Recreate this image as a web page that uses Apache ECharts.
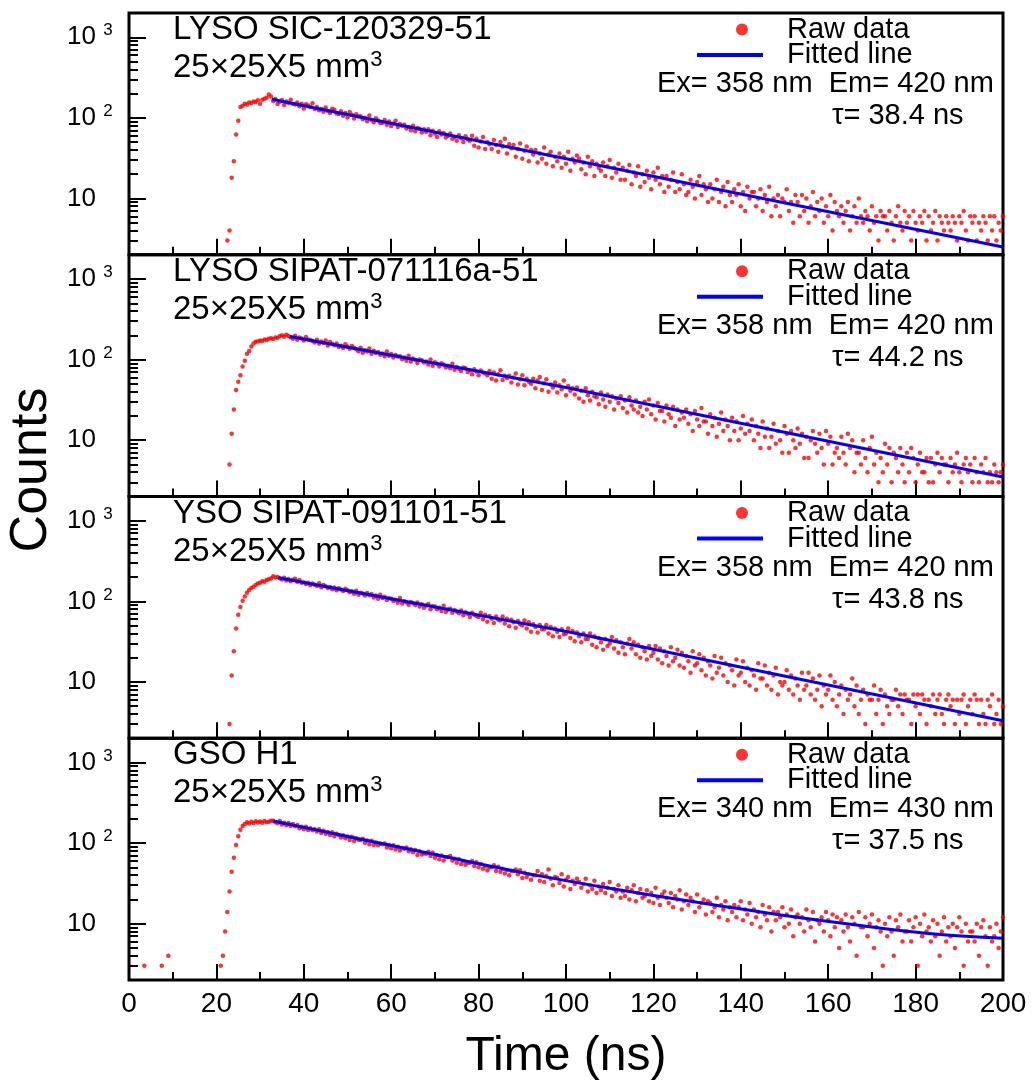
<!DOCTYPE html>
<html>
<head>
<meta charset="utf-8">
<title>Scintillation decay time</title>
<script src="https://cdn.jsdelivr.net/npm/echarts@6/dist/echarts.min.js"></script>
<style>
  html, body { margin: 0; padding: 0; background: #ffffff; }
  #chart { width: 1033px; height: 1081px; }
</style>
</head>
<body>
<div id="chart"></div>
<script>
// ---- data -------------------------------------------------------------
// Raw decay spectra: counts per 0.5 ns channel, first channel at rawStartTimes[k]
const TIME_STEP = 0.5;

const panelTitles = ['LYSO SIC-120329-51', 'LYSO SIPAT-071116a-51', 'YSO SIPAT-091101-51', 'GSO H1'];
const sizeLabel = '25×25X5 mm';
const wavelengthLabels = ['Ex= 358 nm  Em= 420 nm', 'Ex= 358 nm  Em= 420 nm', 'Ex= 358 nm  Em= 420 nm', 'Ex= 340 nm  Em= 430 nm'];
const tauLabels = ['τ= 38.4 ns', 'τ= 44.2 ns', 'τ= 43.8 ns', 'τ= 37.5 ns'];

const rawStartTimes = [22.5, 23.0, 23.0, 21.0];

const rawCountsLysoSic = [
  3,4,18,29,62,92,136,141,150,146,155,152,160,157,165,150,168,172,178,195,184,
  162,171,149,158,166,144,160,153,168,150,
  146,155,139,150,131,147,142,136,152,129,
  136,124,129,119,134,122,115,130,126,113,
  112,121,106,115,101,118,109,98,111,104,
  105,96,100,91,107,94,88,99,93,86,
  87,94,82,90,79,85,92,77,84,80,
  82,74,77,70,80,68,75,73,66,72,
  67,72,61,69,64,58,68,62,65,57,
  60,64,55,58,52,61,56,50,59,54,
  52,60,45,55,43,51,58,41,50,47,
  41,53,46,38,50,44,55,36,47,42,
  46,33,41,48,31,39,44,29,40,35,
  40,28,36,31,43,27,35,38,25,33,
  29,36,24,33,27,38,22,31,28,34,
  31,23,28,20,33,25,29,19,27,24,
  22,28,19,25,30,18,24,21,27,17,
  24,17,22,26,15,21,19,25,14,20,
  16,22,18,13,21,17,24,15,19,12,
  19,14,17,21,12,16,13,20,15,11,
  12,17,14,10,16,19,11,15,13,9,
  15,10,13,17,9,12,14,8,16,11,
  9,13,11,15,8,12,7,14,10,12,
  12,8,10,13,7,11,9,14,6,10,
  8,11,6,10,9,13,7,9,5,11,
  9,6,11,7,10,5,8,12,6,9,
  7,10,5,8,6,11,4,9,7,6,
  8,5,7,9,4,6,8,5,10,6,
  5,7,6,4,8,5,6,3,7,6,
  6,4,7,5,3,6,8,5,4,7,
  5,6,3,7,5,4,6,5,7,3,
  6,4,5,7,3,6,5,4,6,5,
  4,6,5,3,6,5,7,4,3,6,
  5,6,3,5,4,6,5,3,6,4,
  6,3,5,4,6
];

const rawCountsLysoSipat = [
  5,12,24,42,53,64,82,97,118,128,145,158,166,168,172,170,178,175,181,184,180,188,186,195,200,192,203,196,
  190,181,197,176,188,183,172,191,178,175,
  170,163,176,158,168,161,172,150,165,157,
  151,158,143,149,139,155,145,136,147,140,
  134,127,140,122,131,126,137,118,129,121,
  124,115,119,110,126,112,117,106,114,109,
  110,101,106,97,112,95,103,99,91,100,
  98,92,95,87,100,84,93,89,82,90,
  87,80,84,78,89,75,81,77,72,80,
  78,70,74,66,76,71,64,73,69,67,
  64,72,58,69,55,66,74,56,63,59,
  63,52,60,67,49,57,64,48,58,53,
  50,58,44,55,61,42,51,57,40,49,
  45,52,39,48,43,55,36,47,41,44,
  37,45,33,41,30,44,36,31,40,35,
  34,28,39,32,26,37,30,35,24,33,
  29,35,25,31,22,34,27,24,31,22,
  26,20,30,24,32,21,27,18,29,23,
  23,17,27,21,19,26,15,24,18,22,
  19,24,16,21,13,23,18,15,25,17,
  17,12,21,15,19,11,16,22,13,18,
  15,10,19,13,17,10,14,20,12,16,
  13,18,10,15,12,8,17,11,14,8,
  11,16,9,13,10,7,15,12,7,13,
  10,8,14,9,12,6,11,6,10,13,
  9,7,12,8,5,13,9,11,5,7,
  8,6,11,7,5,12,8,10,4,7,
  7,5,10,6,4,8,11,5,7,3,
  6,4,9,5,8,3,7,6,4,8,
  5,3,7,4,8,6,3,5,7,4,
  4,6,3,6,3,5,7,4,6,5,
  5,3,6,4,5,7,4,3,5,6,
  4,5,3,6,4,3,5,4,6,3,
  4,3,5,4,3,4,5
];

const rawCountsYsoSipat = [
  3,12,24,46,68,85,102,115,128,138,146,152,160,166,170,178,175,184,188,192,205,198,200,194,
  187,196,182,190,177,185,191,175,184,170,
  173,164,170,158,167,161,155,168,150,159,
  154,146,151,141,149,137,145,140,134,143,
  137,130,133,124,135,121,128,125,118,127,
  119,123,112,118,108,121,110,114,104,109,
  108,101,105,96,110,94,100,97,91,98,
  95,90,97,86,92,83,89,93,80,87,
  86,80,83,76,88,74,79,81,72,78,
  75,71,77,67,73,70,64,72,68,66,
  64,72,60,68,56,66,61,54,65,59,
  58,65,53,61,49,59,55,47,57,52,
  50,58,46,55,42,52,48,41,51,45,
  45,51,40,48,37,46,42,36,45,39,
  40,46,35,43,32,41,37,31,40,34,
  34,40,29,37,27,35,31,25,34,28,
  30,36,26,33,23,31,27,22,30,34,
  26,31,22,29,20,27,24,19,28,21,
  23,28,19,26,17,24,21,16,27,18,
  20,25,16,23,15,21,18,13,24,16,
  17,22,14,20,12,18,16,11,21,13,
  15,20,12,17,10,16,14,9,19,12,
  13,18,10,15,9,14,12,8,17,11,
  11,16,9,13,8,12,15,7,10,9,
  10,14,8,12,7,11,9,6,13,8,
  9,13,7,11,6,8,12,5,9,7,
  8,12,6,10,5,7,9,4,8,6,
  7,11,5,9,4,6,8,3,7,6,
  6,9,4,6,8,3,7,5,4,6,
  6,8,5,7,4,7,6,6,3,7,
  5,7,4,7,6,3,6,5,7,4,
  6,7,4,3,6,7,5,6,3,6,
  4,6,7,3,5,6,4,7,6,3,
  6,4,3,6,5,7,3,4,6,3,
  5
];

const rawCountsGso = [
  3,4,8,14,25,44,66,95,122,146,163,172,181,175,184,178,186,180,185,179,188,182,184,190,
  190,181,176,188,170,179,166,178,163,172,
  162,168,153,160,149,159,145,153,144,148,
  139,148,133,142,131,137,126,136,122,131,
  126,117,125,115,121,109,120,106,115,110,
  109,113,101,108,97,107,95,102,94,99,
  97,99,88,95,86,94,83,90,81,87,
  85,88,79,84,77,82,71,79,72,75,
  74,78,69,76,66,71,63,70,61,67,
  67,69,61,64,57,63,55,60,54,57,
  57,60,52,58,50,55,48,52,46,50,
  50,53,45,51,44,48,42,46,40,45,
  45,47,41,46,37,43,38,41,35,40,
  40,45,34,41,33,39,47,36,30,38,
  37,32,41,29,35,38,27,34,31,36,
  33,28,31,36,25,30,27,34,24,29,
  26,31,24,28,33,22,27,25,30,21,
  25,22,28,20,26,30,19,24,27,21,
  22,26,19,24,18,28,21,17,23,25,
  21,18,24,16,22,20,26,15,19,23,
  17,21,19,14,23,16,18,20,13,19,
  18,14,16,21,12,17,15,19,11,16,
  14,17,12,16,19,11,15,13,18,10,
  15,12,14,9,17,13,11,16,8,14,
  11,14,12,16,9,13,10,15,7,12,
  13,10,12,8,15,11,9,14,6,11,
  10,12,8,14,11,7,13,9,12,5,
  11,8,13,9,6,12,10,4,14,9,
  9,12,7,10,13,5,9,11,8,3,
  10,7,12,8,4,11,9,13,6,8,
  8,11,6,9,12,3,10,7,13,8,
  9,6,11,7,10,4,8,12,6,9,
  7,10,5,9,12,8,3,10,6,8,
  8,6,10,4,9,11,7,3,9,6,
  7,10,5,8,12
];

// isolated background hits before the GSO pulse
const gsoEarlyTimes = [3.5, 7.5, 9.0];
const gsoEarlyCounts = [3, 3, 4];

// fitted decay curves (time in ns, counts)
const fitTimesLysoSic = [32.7, 200];
const fitCountsLysoSic = [170, 2.5];
const fitTimesLysoSipat = [36.8, 100, 200];
const fitCountsLysoSipat = [193, 45, 3.5];
const fitTimesYsoSipat = [34.2, 100.7, 200];
const fitCountsYsoSipat = [196, 41.7, 3.3];
const fitTimesGso = [33, 50, 70, 90, 110, 130, 150, 170, 185, 200];
const fitCountsGso = [188, 121, 72, 43, 27.5, 18.4, 12.6, 9.1, 7.4, 6.6];

// axes
const countMin = 2;
const countMax = 2000;
const majorDecades = [1, 2, 3];
const minorCountTicks = [3, 4, 5, 6, 7, 8, 9, 20, 30, 40, 50, 60, 70, 80, 90, 200, 300, 400, 500, 600, 700, 800, 900];
const timeMin = 0;
const timeMax = 200;
const timeInterval = 20;

// ---- layout -----------------------------------------------------------
const FONT = "'Liberation Sans', Arial, Helvetica, sans-serif";
const GRID_LEFT = 129;
const GRID_RIGHT = 30;
const GRID_TOP = 13;
const PANEL_H = 241.75;
const LOG_MIN = Math.log10(countMin);
const LOG_MAX = Math.log10(countMax);

const rawSets = [
  { start: rawStartTimes[0], counts: rawCountsLysoSic },
  { start: rawStartTimes[1], counts: rawCountsLysoSipat },
  { start: rawStartTimes[2], counts: rawCountsYsoSipat },
  { start: rawStartTimes[3], counts: rawCountsGso }
];
const fitSets = [
  [fitTimesLysoSic, fitCountsLysoSic],
  [fitTimesLysoSipat, fitCountsLysoSipat],
  [fitTimesYsoSipat, fitCountsYsoSipat],
  [fitTimesGso, fitCountsGso]
];

function channelPoints(start, counts) {
  return counts.map((c, i) => [+(start + i * TIME_STEP).toFixed(2), c]);
}
function pairs(xs, ys) {
  return xs.map((x, i) => [x, ys[i]]);
}

const rawPoints = rawSets.map(s => channelPoints(s.start, s.counts));
rawPoints[3] = pairs(gsoEarlyTimes, gsoEarlyCounts).concat(rawPoints[3]);

const black = '#000000';
const grids = [], xAxes = [], yAxes = [], series = [], titles = [], legends = [];

panelTitles.forEach((name, k) => {
  const top = GRID_TOP + k * PANEL_H;
  const last = k === panelTitles.length - 1;

  grids.push({
    left: GRID_LEFT, right: GRID_RIGHT, top: top, height: PANEL_H,
    containLabel: false, outerBoundsMode: 'none',
    show: true, borderColor: black, borderWidth: 3, backgroundColor: 'transparent'
  });

  xAxes.push({
    gridIndex: k, type: 'value', position: 'bottom', min: timeMin, max: timeMax, interval: timeInterval,
    axisLine: { show: false },
    axisTick: { show: true, inside: true, length: 16, lineStyle: { color: black, width: 2 } },
    minorTick: { show: true, splitNumber: 2, length: 8, lineStyle: { color: black, width: 2 } },
    splitLine: { show: false },
    minorSplitLine: { show: false },
    axisLabel: { show: last, color: black, fontSize: 28, fontFamily: FONT, margin: 10 },
    name: last ? 'Time (ns)' : '',
    nameLocation: 'middle', nameGap: 53,
    nameTextStyle: { color: black, fontSize: 48, fontFamily: FONT }
  });

  // data axis (logarithmic, carries the series)
  yAxes.push({
    gridIndex: k, type: 'log', logBase: 10, min: countMin, max: countMax, position: 'left', offset: 0,
    axisLine: { show: false }, axisTick: { show: false }, axisLabel: { show: false },
    splitLine: { show: false }, minorTick: { show: false }
  });
  // decade ticks and labels
  yAxes.push({
    gridIndex: k, type: 'value', min: LOG_MIN, max: LOG_MAX, position: 'left', offset: 0,
    axisLine: { show: false }, splitLine: { show: false },
    axisTick: { show: true, inside: true, length: 17, customValues: majorDecades, lineStyle: { color: black, width: 2 } },
    axisLabel: {
      customValues: majorDecades, align: 'left', margin: 62, color: black,
      formatter: v => {
        const e = Math.round(v);
        return e === 1 ? '{b|10}' : '{b|10 }{s|' + e + '}';
      },
      rich: {
        b: { fontSize: 26, lineHeight: 30, fontFamily: FONT, color: black },
        s: { fontSize: 17, lineHeight: 4, verticalAlign: 'top', fontFamily: FONT, color: black }
      }
    }
  });
  // sub-decade ticks
  yAxes.push({
    gridIndex: k, type: 'value', min: LOG_MIN, max: LOG_MAX, position: 'left', offset: 0,
    axisLine: { show: false }, splitLine: { show: false }, axisLabel: { show: false },
    axisTick: { show: true, inside: true, length: 9, customValues: minorCountTicks.map(v => Math.log10(v)), lineStyle: { color: black, width: 2 } }
  });

  series.push({
    name: 'Raw data', type: 'scatter', xAxisIndex: k, yAxisIndex: 3 * k,
    data: rawPoints[k], symbol: 'circle', symbolSize: 4.5,
    itemStyle: { color: '#ff0000' }, clip: true, silent: true, z: 2
  });
  series.push({
    name: 'Fitted line', type: 'line', xAxisIndex: k, yAxisIndex: 3 * k,
    data: pairs(fitSets[k][0], fitSets[k][1]), symbol: 'none', showSymbol: false,
    smooth: last ? 0.35 : false,
    lineStyle: { color: '#0000ff', width: 3 }, itemStyle: { color: '#0000ff' },
    clip: true, silent: true, z: 3
  });

  titles.push({
    text: name + '\n' + sizeLabel + '{s|3}',
    left: 173, top: top - 2, padding: 0,
    textStyle: {
      fontSize: 33, fontWeight: 'normal', fontFamily: FONT, color: black, lineHeight: 38,
      rich: { s: { fontSize: 22, lineHeight: 8, verticalAlign: 'top', fontFamily: FONT, color: black } }
    }
  });
  titles.push({
    text: wavelengthLabels[k], left: 657, top: top + 56, padding: 0,
    textStyle: { fontSize: 29, fontWeight: 'normal', fontFamily: FONT, color: black, lineHeight: 30 }
  });
  titles.push({
    text: tauLabels[k], left: 832, top: top + 88, padding: 0,
    textStyle: { fontSize: 29, fontWeight: 'normal', fontFamily: FONT, color: black, lineHeight: 30 }
  });

  legends.push({
    data: ['Raw data'], left: 736, top: top + 2, padding: 0, orient: 'vertical',
    icon: 'circle', itemWidth: 12, itemHeight: 12, selectedMode: false,
    textStyle: { fontSize: 29, fontFamily: FONT, color: black, lineHeight: 27, padding: [0, 0, 0, 34] }
  });
  legends.push({
    data: ['Fitted line'], left: 697, top: top + 27.5, padding: 0, orient: 'vertical',
    icon: 'rect', itemWidth: 66, itemHeight: 4, selectedMode: false,
    itemStyle: { borderWidth: 0 },
    textStyle: { fontSize: 29, fontFamily: FONT, color: black, lineHeight: 27, padding: [0, 0, 0, 19] }
  });
});

const chart = echarts.init(document.getElementById('chart'), null, { renderer: 'canvas' });
chart.setOption({
  animation: false,
  backgroundColor: '#ffffff',
  textStyle: { fontFamily: FONT, color: black },
  title: titles,
  legend: legends,
  grid: grids,
  xAxis: xAxes,
  yAxis: yAxes,
  series: series,
  graphic: [{
    type: 'text', x: 32, y: 470, rotation: Math.PI / 2,
    style: { text: 'Counts', fontSize: 52, fontFamily: FONT, fill: black, align: 'center', verticalAlign: 'middle' }
  }]
});
</script>
</body>
</html>
